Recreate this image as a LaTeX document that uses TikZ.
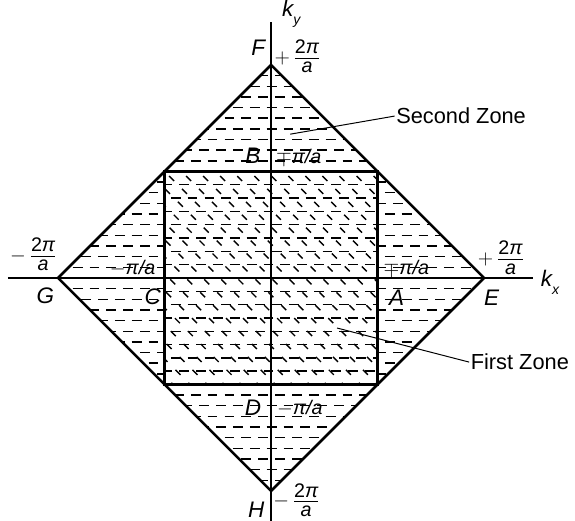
\documentclass[tikz,border=0pt]{standalone}
\usepackage{amsmath}
\usepackage{fontspec}
\setmainfont{Liberation Sans}
\usetikzlibrary{positioning}
\newcommand{\twopia}[1]{$#1\,\frac{\mbox{\rule[-2.5pt]{0pt}{1pt}2\itshape π}}{\mbox{\rule{0pt}{9.5pt}\itshape a}}$}

\begin{document}
\begin{tikzpicture}[
x=2.6625cm, y=2.6625cm,
zone/.style={line width=1.8pt, line join=miter},
axis/.style={line width=1.2pt},
hatch/.style={line width=1pt, dash pattern=on 7pt off 5pt},
tick/.style={line width=1pt, dash pattern=on 5pt off 8pt},
lbl/.style={font=\fontsize{16}{18}\selectfont\itshape, inner sep=1pt},
val/.style={font=\fontsize{14}{16}\selectfont, inner sep=0.5pt},
zname/.style={font=\fontsize{15.5}{18}\selectfont, inner sep=1pt, anchor=west},
leader/.style={line width=0.7pt}
]
\useasboundingbox (-2.545,-2.282) rectangle (2.854,2.610);
% corner points
\coordinate (F) at (0,2);
\coordinate (E) at (2,0);
\coordinate (H) at (0,-2);
\coordinate (G) at (-2,0);
\coordinate (sq1) at (1,1);
\coordinate (sq2) at (-1,1);
\coordinate (sq3) at (-1,-1);
\coordinate (sq4) at (1,-1);

% second zone hatching
\begin{scope}[even odd rule]
\clip (G) -- (F) -- (E) -- (H) -- cycle (sq1) -- (sq2) -- (sq3) -- (sq4) -- cycle;
\foreach \i in {-20,...,20} {
  \pgfmathsetmacro\ph{mod(abs(\i),2)*6}
  \draw[hatch, dash phase=\ph pt] (-2.1,\i*0.1) -- (2.1,\i*0.1);
}
\end{scope}

% first zone hatching
\begin{scope}
\clip (sq1) -- (sq2) -- (sq3) -- (sq4) -- cycle;
\foreach \i in {-8,...,8} {
  \pgfmathsetmacro\ph{mod(abs(\i),2)*6}
  \draw[hatch, dash phase=\ph pt] (-1.1,\i*0.125) -- (1.1,\i*0.125);
}
\foreach \j in {-14,...,14} {
  \draw[tick] (\j*0.16-1.2,1.2) -- (\j*0.16+1.2,-1.2);
}
\end{scope}

% zone boundaries
\draw[zone] (G) -- (F) -- (E) -- (H) -- cycle;
\draw[zone] (sq1) -- (sq2) -- (sq3) -- (sq4) -- cycle;

% axes
\coordinate (kxl) at (-2.47,0);
\coordinate (kxr) at (2.46,0);
\coordinate (kyb) at (0,-2.3);
\coordinate (kyt) at (0,2.40);
\draw[axis] (kxl) -- (kxr);
\draw[axis] (kyb) -- (kyt);
\node[lbl] (kx) at (2.62,-0.04) {k\raisebox{-0.7ex}{\fontsize{10}{11}\selectfont x}};
\node[lbl] (ky) at (0.19,2.48) {k\raisebox{-0.7ex}{\fontsize{10}{11}\selectfont y}};

% points
\node[lbl] (Flbl) at (-0.12,2.16) {F};
\node[lbl] (Blbl) at (-0.17,1.15) {B};
\node[lbl] (Clbl) at (-1.11,-0.18) {C};
\node[lbl] (Albl) at (1.18,-0.19) {A};
\node[lbl] (Elbl) at (2.07,-0.19) {E};
\node[lbl] (Glbl) at (-2.12,-0.17) {G};
\node[lbl] (Dlbl) at (-0.17,-1.22) {D};
\node[lbl] (Hlbl) at (-0.14,-2.18) {H};

% values
\node[val] (Fval) at (0.25,2.08) {\twopia{+}};
\node[val] (Eval) at (2.16,0.19) {\twopia{+}};
\node[val] (Gval) at (-2.23,0.22) {\twopia{-}};
\node[val] (Hval) at (0.24,-2.085) {\twopia{-}};
\node[val] (Bval) at (0.26,1.13) {$\mp$\textit{π/a}};
\node[val] (Aval) at (1.27,0.09) {$\mp$\textit{π/a}};
\node[val] (Cval) at (-1.30,0.09) {$-$\textit{π/a}};
\node[val] (Dval) at (0.27,-1.22) {$-$\textit{π/a}};

% zone names
\node[zname] (second) at (1.16,1.52) {Second Zone};
\node[zname] (first) at (1.86,-0.79) {First Zone};
\coordinate (sz) at (0.18,1.35);
\coordinate (fz) at (0.62,-0.47);
\draw[leader] (sz) -- (second.west);
\draw[leader] (fz) -- (first.west);
\end{tikzpicture}
\end{document}
